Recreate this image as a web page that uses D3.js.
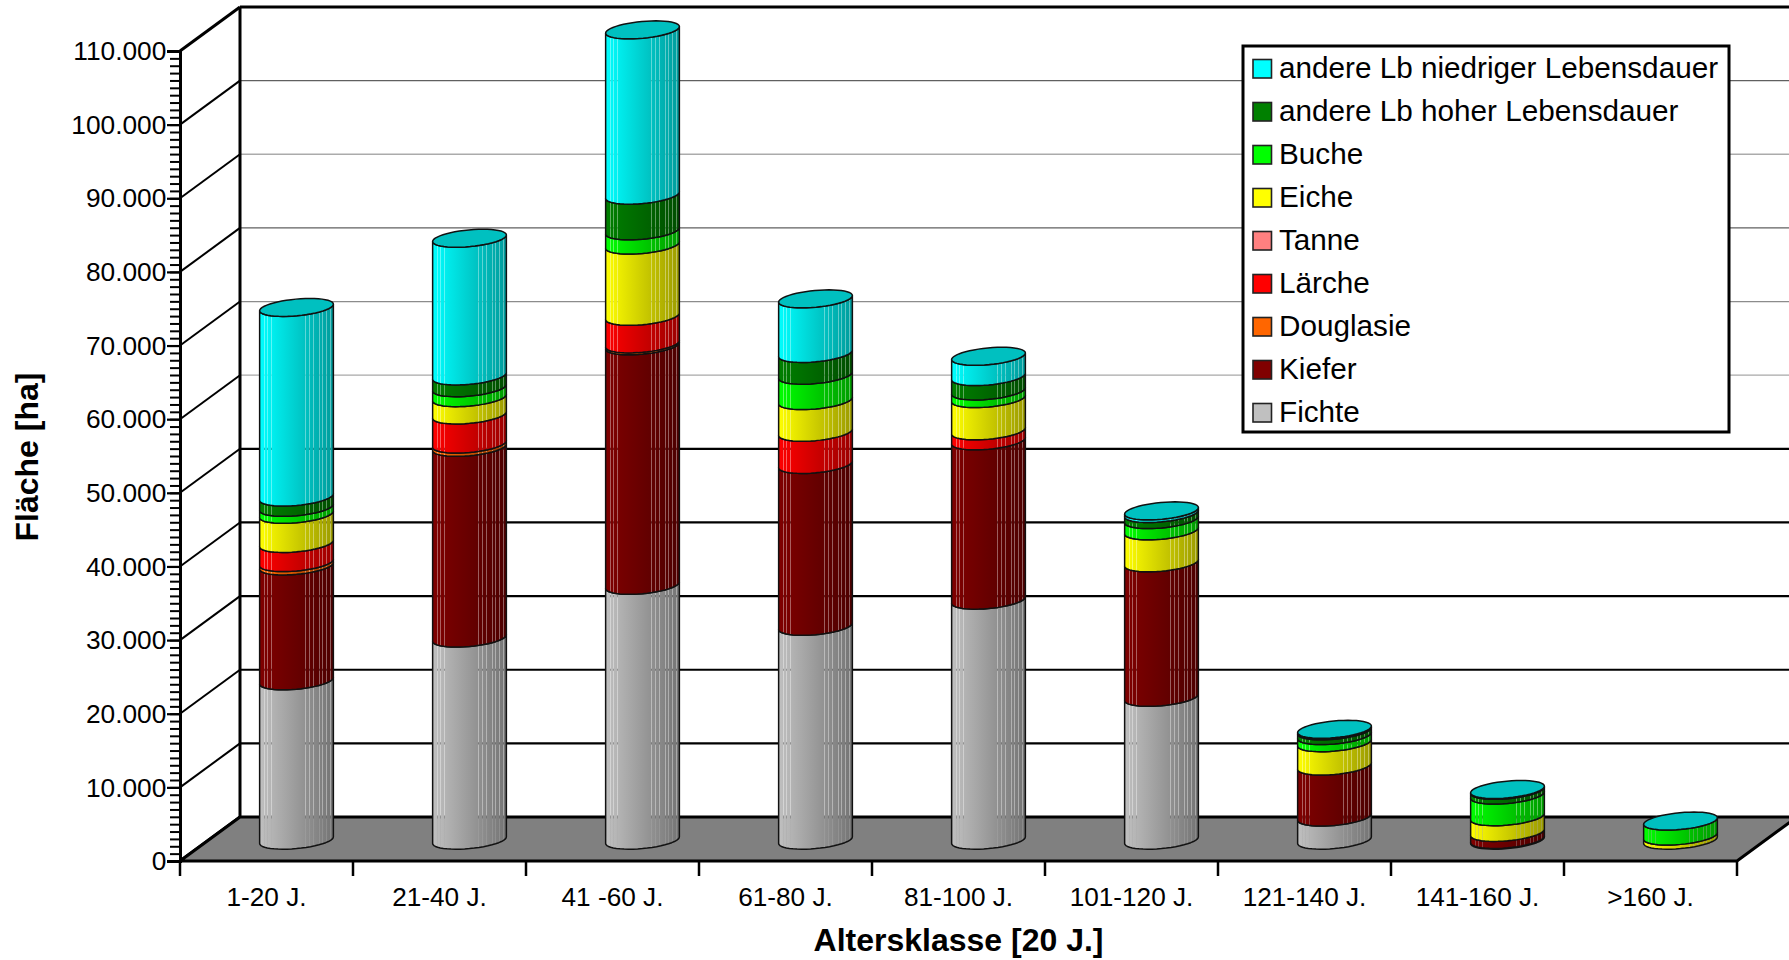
<!DOCTYPE html>
<html>

<head>
    <meta charset="utf-8">
    <style type="text/css">
        html, body {
            margin: 0;
            background: #fff;
            overflow: hidden;
        }

        text {
            font-family: "Liberation Sans", Arial, sans-serif;
            fill: #000;
        }
    </style>
</head>

<body>
    <div id="canvas"></div>

    <script type="text/javascript" src="https://cdn.jsdelivr.net/npm/d3@7"></script>
    <script type="text/javascript">
        var categories = ['1-20 J.', '21-40 J.', '41 -60 J.', '61-80 J.', '81-100 J.', '101-120 J.', '121-140 J.', '141-160 J.', '>160 J.'];

        // bottom to top, same order as the stack
        var seriesNames = ['Fichte', 'Kiefer', 'Douglasie', 'Lärche', 'Tanne', 'Eiche', 'Buche', 'andere Lb hoher Lebensdauer', 'andere Lb niedriger Lebensdauer'];
        var seriesColors = ['#c0c0c0', '#800000', '#ff6600', '#ff0000', '#ff8080', '#ffff00', '#00ff00', '#008000', '#00ffff'];

        var fichte = [21650, 27450, 34620, 29050, 32600, 19400, 3150, 100, 0];
        var kiefer = [15600, 25900, 32530, 21980, 21630, 18270, 6920, 960, 0];
        var douglasie = [450, 450, 250, 0, 0, 0, 0, 0, 0];
        var laerche = [2600, 3950, 3750, 4370, 1360, 0, 0, 0, 0];
        var tanne = [0, 0, 0, 0, 0, 0, 0, 0, 0];
        var eiche = [3950, 2350, 9670, 4300, 4380, 4350, 3170, 2130, 570];
        var buche = [950, 1350, 1930, 3450, 1040, 1530, 970, 2940, 2030];
        var lbHoch = [1400, 1600, 4850, 2950, 1960, 820, 650, 650, 0];
        var lbNiedrig = [25750, 18700, 22450, 7420, 2750, 360, 200, 110, 0];
        var seriesValues = [fichte, kiefer, douglasie, laerche, tanne, eiche, buche, lbHoch, lbNiedrig];

        var yTicks = [0, 10000, 20000, 30000, 40000, 50000, 60000, 70000, 80000, 90000, 100000, 110000];

        var width = 1789, height = 960;
        var depthX = 60, depthY = -44;

        var x = d3.scaleBand().domain(categories).range([180, 1737]);
        var y = d3.scaleLinear().domain([0, 110000]).range([861, 51]);
        var fmt = d3.formatLocale({ decimal: ',', thousands: '.', grouping: [3], currency: ['', ''] }).format(',');

        var svg = d3.select('#canvas').append('svg')
            .attr('width', width)
            .attr('height', height);
        var defs = svg.append('defs');

        // the light facet lines on the cylinders, as share of the width
        var facets = [0.06, 0.1, 0.15, 0.62, 0.67, 0.73, 0.81, 0.85, 0.9, 0.95];

        seriesColors.forEach(function (color, i) {
            var grad = defs.append('linearGradient').attr('id', 'cyl' + i);
            var shade = function (t) {
                return d3.interpolateRgb(color, d3.rgb(color).darker(1.4))(t);
            };
            var addStop = function (t, c, o) {
                grad.append('stop').attr('offset', t).attr('stop-color', c).attr('stop-opacity', o);
            };
            var prev = 0;
            facets.forEach(function (f) {
                var light = d3.interpolateRgb(shade(f), '#fff')(0.16);
                addStop(prev, shade(prev), 1);
                addStop(f, shade(f), 1);
                addStop(f, light, 0.75);
                addStop(f + 0.012, light, 0.75);
                prev = f + 0.012;
            });
            addStop(prev, shade(prev), 1);
            addStop(1, shade(1), 1);
        });

        // back wall grid
        var gridColor = { 60000: '#a8a8a8', 70000: '#8c8c8c', 80000: '#606060', 90000: '#ababab', 100000: '#606060' };
        svg.append('g').selectAll('line')
            .data(yTicks.slice(1))
            .enter().append('line')
            .attr('x1', 180 + depthX)
            .attr('x2', width)
            .attr('y1', function (d) { return y(d) + depthY; })
            .attr('y2', function (d) { return y(d) + depthY; })
            .attr('stroke', function (d) { return gridColor[d] || '#000'; })
            .attr('stroke-width', function (d) { return d === 110000 ? 3 : (d > 50000 ? 1.3 : 2.2); });

        // side wall
        svg.append('g').selectAll('line')
            .data(yTicks)
            .enter().append('line')
            .attr('x1', 180)
            .attr('x2', 180 + depthX)
            .attr('y1', function (d) { return y(d); })
            .attr('y2', function (d) { return y(d) + depthY; })
            .attr('stroke', '#000')
            .attr('stroke-width', function (d) { return d === 110000 || d === 0 ? 3 : 2; });

        svg.append('line')
            .attr('x1', 180 + depthX).attr('x2', 180 + depthX)
            .attr('y1', y(110000) + depthY).attr('y2', y(0) + depthY)
            .attr('stroke', '#000').attr('stroke-width', 3);

        // floor
        svg.append('path')
            .attr('d', d3.line()([[180, y(0)], [1737, y(0)], [1737 + depthX, y(0) + depthY], [180 + depthX, y(0) + depthY]]) + 'Z')
            .attr('fill', '#808080')
            .attr('stroke', '#000')
            .attr('stroke-width', 3);

        // cylinders
        var ellA = 34.3, ellB = 13.5, ellC = 9;
        var baseShift = -20.8;
        var tangent = Math.atan2(ellB, ellA);
        var line = d3.line();

        var ellPoint = function (cx, cy, t) {
            return [cx + ellA * Math.cos(t) + ellB * Math.sin(t), cy - ellC * Math.sin(t)];
        };
        var frontArc = function (cx, cy) {
            return d3.range(0, 25).map(function (k) {
                return ellPoint(cx, cy, Math.PI + tangent + k / 24 * Math.PI);
            });
        };

        var bars = svg.append('g');
        categories.forEach(function (cat, i) {
            var cx = x(cat) + x.bandwidth() / 2 + depthX / 2;
            var sum = 0;
            seriesValues.forEach(function (values, s) {
                var v = values[i];
                if (!v) { return; }
                var y0 = y(sum) + baseShift, y1 = y(sum + v) + baseShift;
                sum += v;
                var pts = frontArc(cx, y0).concat(frontArc(cx, y1).reverse());
                bars.append('path')
                    .attr('d', line(pts) + 'Z')
                    .attr('fill', 'url(#cyl' + s + ')')
                    .attr('stroke', '#111')
                    .attr('stroke-width', 1.5)
                    .attr('stroke-linejoin', 'round');
            });
            var capY = y(sum) + baseShift;
            var cap = d3.range(0, 48).map(function (k) {
                return ellPoint(cx, capY, k / 48 * 2 * Math.PI);
            });
            bars.append('path')
                .attr('d', line(cap) + 'Z')
                .attr('fill', d3.rgb(seriesColors[seriesColors.length - 1]).darker(0.8))
                .attr('stroke', '#111')
                .attr('stroke-width', 1.5);
        });

        // y axis
        var minor = svg.append('g')
            .attr('transform', 'translate(180,0)')
            .call(d3.axisLeft(y).tickValues(d3.range(0, 110001, 1000)).tickSize(10).tickFormat(''));
        minor.selectAll('line').attr('stroke', '#000').attr('stroke-width', 2);
        minor.select('.domain').remove();

        var yAxis = svg.append('g')
            .attr('transform', 'translate(180,0)')
            .call(d3.axisLeft(y).tickValues(yTicks).tickSize(13).tickPadding(0.7).tickFormat(fmt));
        yAxis.select('.domain').attr('stroke', '#000').attr('stroke-width', 3);
        yAxis.selectAll('line').attr('stroke', '#000').attr('stroke-width', 2.2);
        yAxis.selectAll('text')
            .attr('font-size', 26.3)
            .attr('font-family', '"Liberation Sans", Arial, sans-serif')
            .attr('dy', '0.33em');

        // x axis, the ticks sit between the categories
        var xAxis = svg.append('g')
            .attr('transform', 'translate(0,' + y(0) + ')')
            .call(d3.axisBottom(x).tickSize(0).tickPadding(26));
        xAxis.select('.domain').remove();
        xAxis.selectAll('text')
            .attr('font-size', 26.2)
            .attr('font-family', '"Liberation Sans", Arial, sans-serif');

        svg.append('g').selectAll('line')
            .data(d3.range(0, categories.length + 1))
            .enter().append('line')
            .attr('x1', function (d) { return 180 + d * x.bandwidth(); })
            .attr('x2', function (d) { return 180 + d * x.bandwidth(); })
            .attr('y1', y(0))
            .attr('y2', y(0) + 15)
            .attr('stroke', '#000')
            .attr('stroke-width', 2.5);

        // axis titles
        svg.append('text')
            .attr('transform', 'translate(38,457) rotate(-90)')
            .attr('text-anchor', 'middle')
            .attr('font-size', 32)
            .attr('font-weight', 'bold')
            .text('Fläche [ha]');

        svg.append('text')
            .attr('x', 958.5)
            .attr('y', 951)
            .attr('text-anchor', 'middle')
            .attr('font-size', 32)
            .attr('font-weight', 'bold')
            .text('Altersklasse [20 J.]');

        // legend
        var legend = svg.append('g');
        legend.append('rect')
            .attr('x', 1243).attr('y', 46)
            .attr('width', 486).attr('height', 386)
            .attr('fill', '#fff')
            .attr('stroke', '#000')
            .attr('stroke-width', 3);

        var rows = legend.selectAll('g')
            .data(d3.range(seriesNames.length - 1, -1, -1))
            .enter().append('g')
            .attr('transform', function (d, i) { return 'translate(0,' + (i * 43) + ')'; });
        rows.append('rect')
            .attr('x', 1253).attr('y', 59.5)
            .attr('width', 18.5).attr('height', 18.5)
            .attr('fill', function (d) { return seriesColors[d]; })
            .attr('stroke', '#222')
            .attr('stroke-width', 1.6);
        rows.append('text')
            .attr('x', 1279).attr('y', 78)
            .attr('font-size', 29.7)
            .text(function (d) { return seriesNames[d]; });
    </script>
</body>

</html>
